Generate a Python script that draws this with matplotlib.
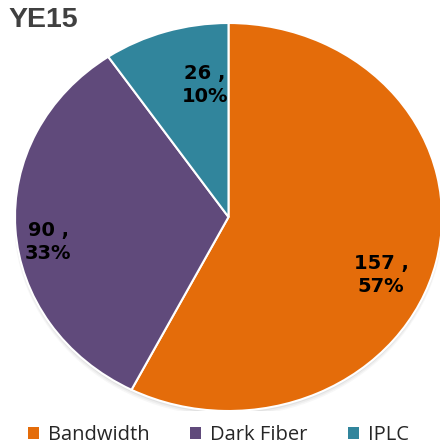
import matplotlib.pyplot as plt
from matplotlib.patches import Ellipse

## Data
categories = ['Bandwidth', 'Dark Fiber', 'IPLC']
values = [157, 90, 26]
percents = ['57%', '33%', '10%']
colors = ['#E46C0A', '#604A7B', '#31859C']

## label placement (axes data coords, pie radius = 1)
label_xy = [(0.715, -0.30), (-0.845, -0.13), (-0.11, 0.68)]

fig = plt.figure(figsize=(4.40, 4.46), dpi=100)
ax = fig.add_axes([15/440, 35/446, 427/440, 388/446])

## soft shadow under the pie
for i, a in enumerate([0.10, 0.08, 0.06]):
    ax.add_patch(Ellipse((0, -0.012 - 0.006*i), 2.0 + 0.004*i, 2.0 + 0.004*i,
                         color='#7f7f7f', alpha=a, lw=0, zorder=0))

wedges, _ = ax.pie(values, colors=colors, startangle=90, counterclock=False,
                   radius=1, wedgeprops=dict(edgecolor='white', linewidth=1.5),
                   frame=False)
for w in wedges:
    w.set_clip_on(False)
    w.set_zorder(2)

ax.set_aspect('auto')
ax.set_xlim(-1, 1)
ax.set_ylim(-1, 1)
ax.axis('off')

for (x, y), v, p in zip(label_xy, values, percents):
    ax.text(x, y, f'{v} ,\n{p}', ha='center', va='center', fontsize=14,
            fontweight='bold', color='black', family='DejaVu Sans',
            linespacing=1.3, zorder=3)

fig.text(8/440, 1 - 20/446, 'YE15', fontsize=20.5, fontweight='bold',
         color='#404040', family='Liberation Sans', va='center', ha='left')

leg = fig.legend(wedges, categories, loc='lower center', bbox_to_anchor=(0.496, -0.038),
                 ncol=3, frameon=False, handlelength=0.55, handleheight=0.55,
                 handletextpad=0.45, columnspacing=2.0,
                 prop={'family': 'Open Sans', 'size': 14.5})
for t in leg.get_texts():
    t.set_color('#262626')
for h in leg.legend_handles:
    h.set_edgecolor('none')

fig.savefig('out.png', dpi=100)
